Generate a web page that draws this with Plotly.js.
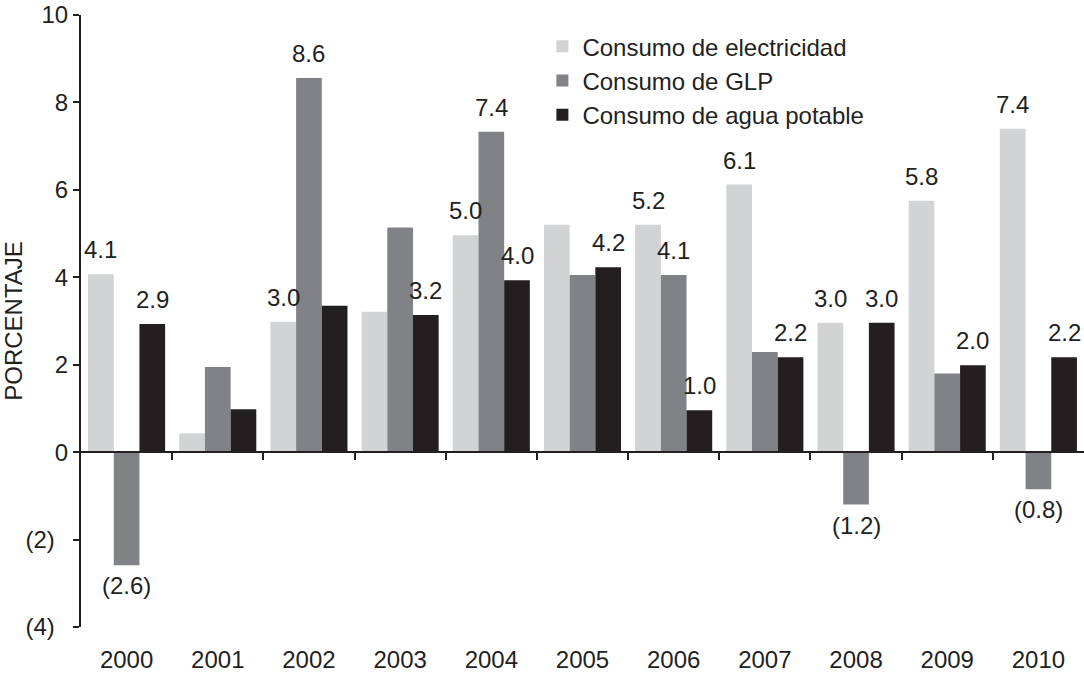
<!DOCTYPE html>
<html>
<head>
<meta charset="utf-8">
<script src="https://cdn.plot.ly/plotly-3.0.1.min.js"></script>
<style>
html, body { margin: 0; padding: 0; background: #fff; }
#chart { width: 1084px; height: 673px; }
</style>
</head>
<body>
<div id="chart"></div>
<script>
var years = ['2000','2001','2002','2003','2004','2005','2006','2007','2008','2009','2010'];
var seriesNames = ['Consumo de electricidad', 'Consumo de GLP', 'Consumo de agua potable'];
var electricidad = [4.07, 0.43, 2.98, 3.21, 4.96, 5.20, 5.20, 6.12, 2.96, 5.75, 7.40];
var glp          = [-2.59, 1.95, 8.56, 5.14, 7.33, 4.05, 4.05, 2.29, -1.20, 1.80, -0.85];
var agua         = [2.93, 0.98, 3.35, 3.14, 3.93, 4.23, 0.96, 2.17, 2.96, 1.99, 2.17];
var labelsElectricidad = ['4.1', '', '3.0', '', '5.0', '', '5.2', '6.1', '3.0', '5.8', '7.4'];
var labelsGlp          = ['(2.6)', '', '8.6', '', '7.4', '', '4.1', '', '(1.2)', '', '(0.8)'];
var labelsAgua         = ['2.9', '', '', '3.2', '4.0', '4.2', '1.0', '2.2', '3.0', '2.0', '2.2'];
var yTickVals = [-4, -2, 0, 2, 4, 6, 8, 10];
var yTickText = ['(4)\u00a0\u00a0', '(2)\u00a0\u00a0', '0', '2', '4', '6', '8', '10'];

var colors = ['#d1d3d4', '#808285', '#231f20'];
var textColor = '#231f20';
var fontFamily = '"Liberation Sans", Arial, Helvetica, sans-serif';
var fs = 24;
var bargap = 0.155;

var values = [electricidad, glp, agua];
var labels = [labelsElectricidad, labelsGlp, labelsAgua];

var traces = values.map(function (v, i) {
  return {
    type: 'bar',
    name: seriesNames[i],
    x: years.map(function (_, j) { return j; }),
    y: v,
    marker: { color: colors[i], line: { width: 0 } },
    hoverinfo: 'none'
  };
});

// invisible trace to carry the zero-line axis with boundary ticks
traces.push({
  type: 'scatter', x: [-0.5, years.length - 0.5], y: [0, 0],
  xaxis: 'x2', yaxis: 'y', mode: 'lines', line: { width: 0 },
  showlegend: false, hoverinfo: 'none'
});

var barW = (1 - bargap) / 3;
var annotations = [];
labels.forEach(function (arr, i) {
  arr.forEach(function (t, j) {
    if (!t) return;
    var v = values[i][j];
    annotations.push({
      x: j + (i - 1) * barW, y: v, xref: 'x', yref: 'y',
      text: t, showarrow: false,
      yanchor: v >= 0 ? 'bottom' : 'top',
      yshift: v >= 0 ? 9 : -5,
      font: { family: fontFamily, size: fs, color: textColor }
    });
  });
});

var boundaryTicks = [];
for (var k = 0; k < years.length - 1; k++) boundaryTicks.push(k + 0.5);

var layout = {
  width: 1084, height: 673,
  margin: { l: 81, r: 0, t: 15, b: 46, pad: 0 },
  paper_bgcolor: '#ffffff', plot_bgcolor: '#ffffff',
  font: { family: fontFamily, size: fs, color: textColor },
  barmode: 'group', bargap: bargap, bargroupgap: 0,
  showlegend: true,
  legend: {
    x: 0.46, y: 0.985, xanchor: 'left', yanchor: 'top',
    bgcolor: 'rgba(0,0,0,0)', borderwidth: 0,
    font: { family: fontFamily, size: fs, color: textColor },
    tracegroupgap: 0, traceorder: 'normal'
  },
  xaxis: {
    type: 'linear', range: [-0.5, years.length - 0.5],
    tickvals: years.map(function (_, j) { return j; }),
    ticktext: years,
    showline: false, ticks: '', showgrid: false, zeroline: false,
    ticklabelstandoff: 16,
    tickfont: { family: fontFamily, size: fs, color: textColor },
    fixedrange: true
  },
  xaxis2: {
    overlaying: 'x', anchor: 'free', position: 4 / 14,
    type: 'linear', range: [-0.5, years.length - 0.5],
    tickvals: boundaryTicks, showticklabels: false,
    ticks: 'outside', ticklen: 7, tickwidth: 2, tickcolor: textColor,
    showline: true, linecolor: textColor, linewidth: 2,
    showgrid: false, zeroline: false
  },
  yaxis: {
    range: [-4, 10], tickvals: yTickVals, ticktext: yTickText,
    showline: true, linecolor: textColor, linewidth: 2,
    ticks: 'outside', ticklen: 6, tickwidth: 2, tickcolor: textColor,
    showgrid: false, zeroline: false,
    tickfont: { family: fontFamily, size: fs, color: textColor },
    title: { text: 'PORCENTAJE', standoff: 2, font: { family: fontFamily, size: 24, color: textColor } },
    automargin: false
  },
  annotations: annotations
};

Plotly.newPlot('chart', traces, layout, { displayModeBar: false, staticPlot: true });
</script>
</body>
</html>
